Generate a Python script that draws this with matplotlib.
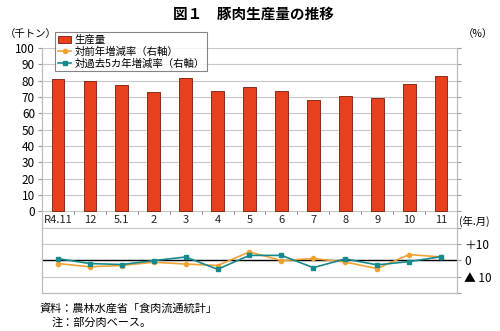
import matplotlib
matplotlib.use("Agg")
import matplotlib.pyplot as plt
import numpy as np

plt.rcParams["font.family"] = ["Noto Sans CJK JP", "DejaVu Sans"]

# data
months = ["R4.11", "12", "5.1", "2", "3", "4", "5", "6", "7", "8", "9", "10", "11"]
production = [81.1, 79.7, 77.6, 73.0, 81.5, 73.8, 76.2, 73.4, 68.3, 70.3, 69.5, 78.2, 82.7]
yoy_rate = [-2.0, -4.0, -3.2, -1.2, -2.3, -3.2, 5.1, -0.2, 1.1, -1.1, -5.1, 3.5, 2.0]
avg5y_rate = [1.0, -2.0, -2.6, -0.2, 2.0, -5.5, 3.0, 3.0, -4.5, 0.8, -2.8, -0.8, 2.2]

left_ticks = list(range(0, 101, 10))
right_labels = {10: "＋10", 0: "0", -10: "▲ 10"}

BAR_C = "#E8401C"
BAR_EDGE = "#7A1A08"
ORANGE = "#F0A232"
TEAL = "#17898C"
GRID = "#C8C8C8"

fig = plt.figure(figsize=(5.0, 3.31), dpi=100)
ax = fig.add_axes([0.084, 0.115, 0.83, 0.74])
ax2 = ax.twinx()

x = np.arange(len(months))
ax.set_xlim(-0.5, len(months) - 0.5)
ax.set_ylim(-50, 100)
ax2.set_ylim(-20, 130)

# grid lines across the whole plot
for g in range(-50, 101, 10):
    ax.axhline(g, color=GRID, lw=0.8, zorder=0)

ax.bar(x, production, width=0.4, color=BAR_C, edgecolor=BAR_EDGE, lw=0.6,
       zorder=3, label="生産量")

# category labels sit under the 0 line
for xi, lab in zip(x, months):
    ax.text(xi, -2.5, lab, ha="center", va="top", fontsize=8, color="#222222")
for b in np.arange(-0.5, len(months), 1.0):
    ax.plot([b, b], [0, -1.8], color="#999999", lw=0.7, zorder=2)

ax2.axhline(0, color="black", lw=1.0, zorder=2)
ax2.plot(x, yoy_rate, color=ORANGE, lw=1.2, marker="o", ms=3, zorder=4,
         label="対前年増減率（右軸）")
ax2.plot(x, avg5y_rate, color=TEAL, lw=1.2, marker="s", ms=3.5, zorder=5,
         label="対過去5カ年増減率（右軸）")

ax.set_yticks(left_ticks)
ax.set_yticklabels([str(t) for t in left_ticks], fontsize=8.5)
ax.set_xticks([])
ax.tick_params(axis="y", length=3, color="#999999", pad=2)

rt = list(range(-20, 131, 10))
ax2.set_yticks(rt)
ax2.set_yticklabels([right_labels.get(t, "") for t in rt], fontsize=8.5)
ax2.tick_params(axis="y", length=3, color="#999999", pad=2)

for a in (ax, ax2):
    for s in a.spines.values():
        s.set_color("#BBBBBB")
        s.set_linewidth(0.8)
    a.spines["top"].set_visible(False)

h1, l1 = ax.get_legend_handles_labels()
h2, l2 = ax2.get_legend_handles_labels()
leg = ax2.legend(h1 + h2, l1 + l2, loc="upper left", bbox_to_anchor=(0.032, 1.065),
                 fontsize=7.5, frameon=True, fancybox=False, edgecolor="#666666",
                 handlelength=1.3, handletextpad=0.3, borderpad=0.25,
                 labelspacing=0.15, borderaxespad=0)
leg.get_frame().set_linewidth(0.8)
leg.set_zorder(10)

fig.text(0.506, 0.958, "図１　豚肉生産量の推移", ha="center", va="center",
         fontsize=10.5, fontweight="bold")
fig.text(0.01, 0.897, "（千トン）", ha="left", va="center", fontsize=7.5)
fig.text(0.925, 0.897, "（%）", ha="left", va="center", fontsize=7.5)
fig.text(0.918, 0.33, "(年.月)", ha="left", va="center", fontsize=7.5)
fig.text(0.08, 0.068, "資料：農林水産省「食肉流通統計」", ha="left", va="center", fontsize=8)
fig.text(0.104, 0.027, "注：部分肉ベース。", ha="left", va="center", fontsize=8)

fig.savefig("out.png", dpi=100)
